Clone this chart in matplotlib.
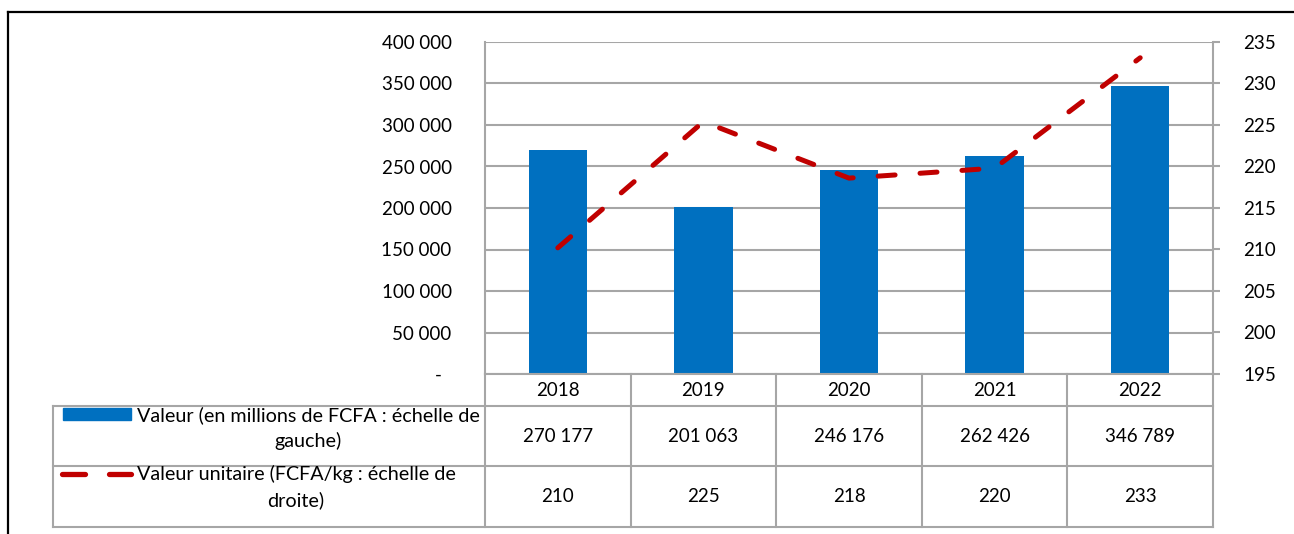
import matplotlib
matplotlib.use("Agg")
import matplotlib.pyplot as plt
from matplotlib.lines import Line2D
from matplotlib.patches import Rectangle
from matplotlib.ticker import FixedLocator, FuncFormatter

years = ["2018", "2019", "2020", "2021", "2022"]
valeur = [270177, 201063, 246176, 262426, 346789]
unitaire = [210.2, 225.4, 218.6, 219.8, 233.1]
valeur_labels = ["270 177", "201 063", "246 176", "262 426", "346 789"]
unitaire_labels = ["210", "225", "218", "220", "233"]
legend_valeur = "Valeur (en millions de FCFA : échelle de\ngauche)"
legend_unitaire = "Valeur unitaire (FCFA/kg : échelle de\ndroite)"
left_ticks = [0, 50000, 100000, 150000, 200000, 250000, 300000, 350000, 400000]
right_ticks = [195, 200, 205, 210, 215, 220, 225, 230, 235]

BLUE = "#0070C0"
RED = "#C00000"
GRID = "#A6A6A6"
FONT = "Lato"
FS = 13.5
FSL = 14.2

plt.rcParams["font.family"] = [FONT, "DejaVu Sans"]
W, H = 1294, 534
fig = plt.figure(figsize=(W / 100, H / 100), dpi=100)

def fx(x):
    return x / W

def fy(y):
    return 1 - y / H

L, R, T, B = 485, 1213, 42, 374
ax = fig.add_axes([fx(L), fy(B), (R - L) / W, (B - T) / H])
ax.set_xlim(-0.5, len(years) - 0.5)
ax.set_ylim(0, 400000)
ax.bar(range(len(years)), valeur, width=0.4, color=BLUE, zorder=3)
ax.yaxis.set_major_locator(FixedLocator(left_ticks))

def fmt_left(v, pos):
    if v == 0:
        return "-  "
    return f"{int(v):,}".replace(",", " ")

ax.yaxis.set_major_formatter(FuncFormatter(fmt_left))
ax.tick_params(axis="y", length=0, pad=24, labelsize=FS, colors="black")
ax.set_xticks([])
ax.grid(axis="y", color=GRID, lw=1.5, zorder=0)
for s in ["top", "bottom"]:
    ax.spines[s].set_visible(False)
ax.spines["left"].set_color(GRID)
ax.spines["left"].set_linewidth(1.5)
ax.spines["right"].set_visible(False)

ax2 = ax.twinx()
ax2.set_ylim(195, 235)
ax2.yaxis.set_major_locator(FixedLocator(right_ticks))
ax2.tick_params(axis="y", length=5, width=1.5, color=GRID, pad=17, labelsize=FS)
for s in ["top", "bottom", "left"]:
    ax2.spines[s].set_visible(False)
ax2.spines["right"].set_color(GRID)
ax2.spines["right"].set_linewidth(1.5)
ax2.plot(range(len(years)), unitaire, color=RED, lw=3.6,
         dashes=(3.4, 5.0), dash_capstyle="round", zorder=4)

# table lines
colw = (R - L) / len(years)
row_y = [374, 406, 466, 527]
lines = []
lines.append(((L, R), (row_y[0], row_y[0])))
for yy in row_y[1:]:
    lines.append(((53, R), (yy, yy)))
lines.append(((53, 53), (row_y[1], row_y[3])))
for k in range(len(years) + 1):
    xx = L + k * colw
    lines.append(((xx, xx), (row_y[0], row_y[3])))
for xs, ys in lines:
    fig.add_artist(Line2D([fx(xs[0]), fx(xs[1])], [fy(ys[0]), fy(ys[1])],
                          color=GRID, lw=1.5, transform=fig.transFigure))

for i, yr in enumerate(years):
    cx = fx(L + (i + 0.5) * colw)
    fig.text(cx, fy(390), yr, ha="center", va="center", fontsize=FS)
    fig.text(cx, fy(436), valeur_labels[i], ha="center", va="center", fontsize=FS)
    fig.text(cx, fy(497), unitaire_labels[i], ha="center", va="center", fontsize=FS)

# legend cells
fig.add_artist(Rectangle((fx(63), fy(420)), (131 - 63) / W, 12 / H, color=BLUE,
                         transform=fig.transFigure))
fig.text(fx(308), fy(428), legend_valeur, ha="center", va="center",
         multialignment="center", fontsize=FSL, linespacing=1.55)
for x0, x1 in [(62, 85), (109, 131)]:
    fig.add_artist(Line2D([fx(x0), fx(x1)], [fy(474), fy(474)], color=RED, lw=3.8,
                          solid_capstyle="round", transform=fig.transFigure))
fig.text(fx(296), fy(487), legend_unitaire, ha="center", va="center",
         multialignment="center", fontsize=FSL, linespacing=1.55)

# outer frame
fig.add_artist(Line2D([fx(8), fx(W)], [fy(12), fy(12)], color="black", lw=1.6,
                      transform=fig.transFigure))
fig.add_artist(Line2D([fx(8), fx(8)], [fy(12), fy(H)], color="black", lw=1.6,
                      transform=fig.transFigure))

fig.savefig("out.png", dpi=100)
